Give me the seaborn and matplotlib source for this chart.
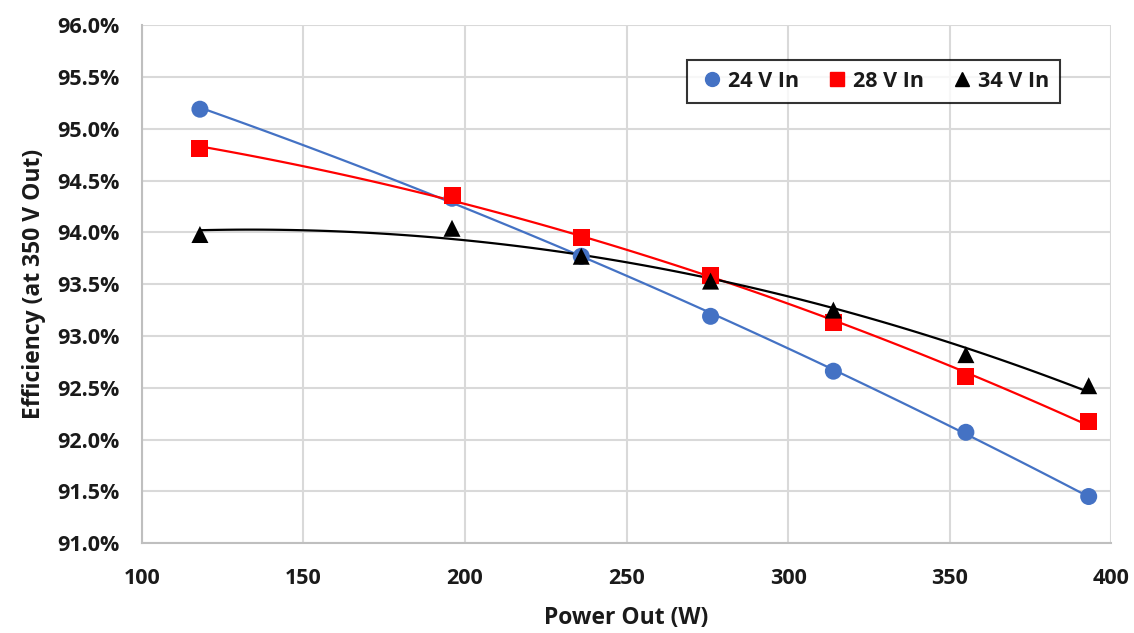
import matplotlib.pyplot as plt
import matplotlib.ticker as mtick
from matplotlib.lines import Line2D
import seaborn as sns
import pandas as pd

# power out (W)
power = [118, 196, 236, 276, 314, 355, 393]

# efficiency (%) for each input voltage
eff_24v = [95.19, 94.33, 93.77, 93.19, 92.66, 92.07, 91.45]
eff_28v = [94.81, 94.36, 93.95, 93.58, 93.13, 92.61, 92.17]
eff_34v = [93.98, 94.04, 93.77, 93.53, 93.25, 92.82, 92.52]

labels = ["24 V In", "28 V In", "34 V In"]
colors = ["#4472C4", "#FF0000", "#000000"]
markers = ["o", "s", "^"]

sns.set_theme(style="whitegrid")
plt.rcParams["font.family"] = ["Open Sans", "DejaVu Sans"]
plt.rcParams["font.weight"] = "bold"

fig, ax = plt.subplots(figsize=(11.34, 6.33), dpi=100)
fig.subplots_adjust(left=0.125, right=0.98, top=0.96, bottom=0.142)

handles = []
for vals, lab, col, mk in zip([eff_24v, eff_28v, eff_34v], labels, colors, markers):
    df = pd.DataFrame({"power": power, "eff": vals})
    # polynomial trendline like excel
    sns.regplot(data=df, x="power", y="eff", order=2, ci=None, scatter=False,
                color=col, line_kws={"linewidth": 1.6}, ax=ax)
    sns.scatterplot(data=df, x="power", y="eff", marker=mk, color=col, s=150,
                    edgecolor="none", ax=ax, zorder=3)
    handles.append(Line2D([], [], marker=mk, color=col, linestyle="none",
                          markersize=10, label=lab))

ax.set_xlim(100, 400)
ax.set_ylim(91, 96)
ax.set_xticks(range(100, 401, 50))
ax.set_yticks([91 + 0.5 * i for i in range(11)])
ax.yaxis.set_major_formatter(mtick.FuncFormatter(lambda v, p: f"{v:.1f}%"))

ax.grid(True, color="#d9d9d9", linewidth=1.5)
for side in ["top", "right"]:
    ax.spines[side].set_visible(False)
for side in ["left", "bottom"]:
    ax.spines[side].set_color("#bfbfbf")
    ax.spines[side].set_linewidth(1.5)

ax.tick_params(axis="both", labelsize=15.5, length=0, labelcolor="#1a1a1a")
ax.tick_params(axis="y", pad=16)
ax.tick_params(axis="x", pad=18)
for t in ax.get_xticklabels() + ax.get_yticklabels():
    t.set_fontweight("bold")

ax.set_xlabel("Power Out (W)", fontsize=16.5, fontweight="bold", labelpad=12,
              color="#1a1a1a")
ax.set_ylabel("Efficiency (at 350 V Out)", fontsize=16.5, fontweight="bold", labelpad=8,
              color="#1a1a1a")

leg = ax.legend(handles=handles, loc="upper right", bbox_to_anchor=(0.947, 0.933),
                borderaxespad=0, ncol=3, frameon=True, fancybox=False, fontsize=15.5,
                handletextpad=0.1, columnspacing=1.1, borderpad=0.5, handlelength=1.3)
leg.get_frame().set_edgecolor("black")
leg.get_frame().set_linewidth(1.5)
for t in leg.get_texts():
    t.set_fontweight("bold")
    t.set_color("#1a1a1a")

fig.savefig("out.png", dpi=100)
